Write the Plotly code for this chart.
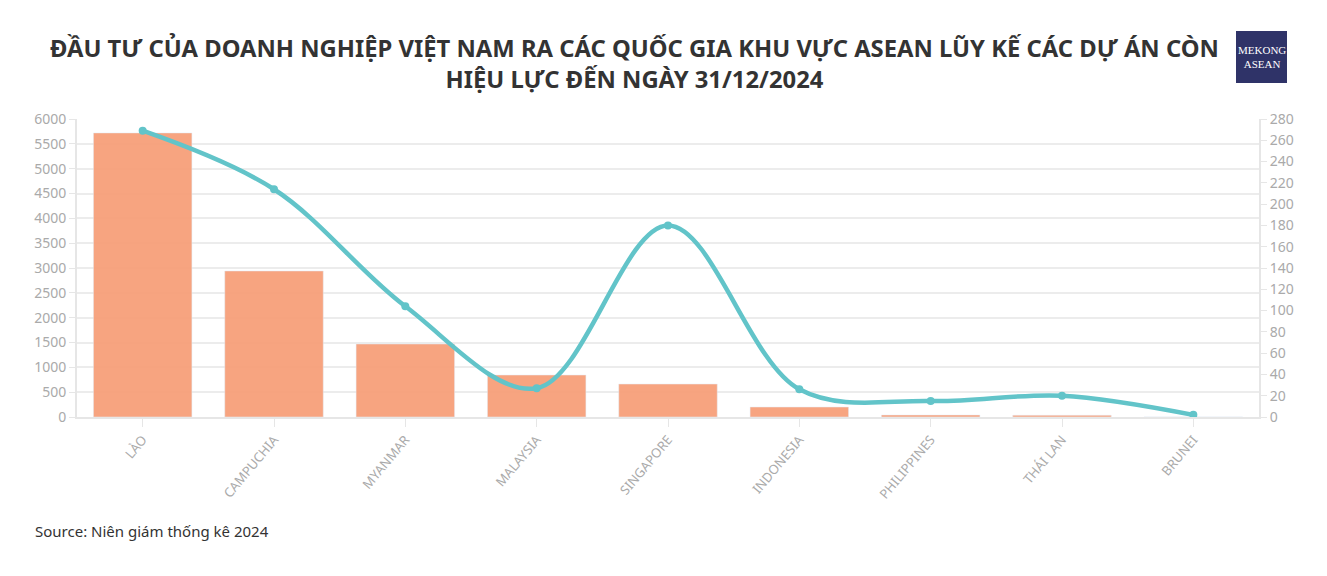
import plotly.graph_objects as go

categories = ["LÀO", "CAMPUCHIA", "MYANMAR", "MALAYSIA", "SINGAPORE", "INDONESIA", "PHILIPPINES", "THÁI LAN", "BRUNEI"]
capital = [5720, 2940, 1470, 845, 664, 201, 40, 35, 2]
projects = [269, 214, 104, 27, 180, 26, 15, 20, 2]
left_ticks = list(range(0, 6001, 500))
right_ticks = list(range(0, 281, 20))

title = "ĐẦU TƯ CỦA DOANH NGHIỆP VIỆT NAM RA CÁC QUỐC GIA KHU VỰC ASEAN LŨY KẾ CÁC DỰ ÁN CÒN<br>HIỆU LỰC ĐẾN NGÀY 31/12/2024"

OFF = 8  # page body margin
W, H = 1327 - 2 * OFF, 576 - 2 * OFF
L = 77 - OFF
T = 119 - OFF
R = W - (1259 - OFF)
B = H - (417 - OFF)
PW, PH = W - L - R, H - T - B

def px(x):
    return (x - OFF - L) / PW

def py(y):
    return (H - B - (y - OFF)) / PH

fig = go.Figure()
fig.add_trace(go.Bar(x=categories, y=capital, marker=dict(color="#f7a07a", opacity=0.95),
                     name="Vốn", yaxis="y"))
fig.add_trace(go.Scatter(x=categories, y=projects, mode="lines+markers", yaxis="y2",
                         line=dict(color="#62c4c9", width=4.5, shape="spline", smoothing=1.0),
                         marker=dict(size=8, color="#62c4c9"), name="Dự án"))

fig.update_layout(
    width=W, height=H,
    margin=dict(l=L, r=R, t=T, b=B, autoexpand=False),
    paper_bgcolor="white", plot_bgcolor="white",
    showlegend=False,
    bargap=0.25,
    font=dict(family="Noto Sans", color="#aaaaaa", size=13),
    xaxis=dict(tickangle=-50, showline=True, linecolor="#e6e6e6", linewidth=2, automargin=False,
               ticks="outside", tickcolor="#e6e6e6", ticklen=8,
               tickfont=dict(size=13, color="#aaaaaa"), showgrid=False),
    yaxis=dict(range=[0, 6000], tickvals=left_ticks, showline=True, linecolor="#e6e6e6", linewidth=2,
               automargin=False,
               gridcolor="#ececec", gridwidth=2, ticks="outside", tickcolor="#e6e6e6", ticklen=6,
               zeroline=False, tickfont=dict(size=14, color="#aaaaaa")),
    yaxis2=dict(range=[0, 280], tickvals=right_ticks, overlaying="y", side="right", showline=True,
                automargin=False,
                linecolor="#e6e6e6", linewidth=2, showgrid=False, ticks="outside", tickcolor="#e6e6e6",
                ticklen=6, zeroline=False, tickfont=dict(size=14, color="#aaaaaa")),
)

# title as annotation (two lines)
fig.add_annotation(xref="paper", yref="paper", x=px(634), y=py(30), xanchor="center", yanchor="top",
                   text="<b>" + title + "</b>", showarrow=False, align="center",
                   font=dict(family="Noto Sans", size=23.8, color="#333333"))

# logo
fig.add_shape(type="rect", xref="paper", yref="paper", x0=px(1236), x1=px(1287),
              y0=py(83), y1=py(31), fillcolor="#2f3368", line=dict(width=0), layer="above")
fig.add_annotation(xref="paper", yref="paper", x=px(1261.5), y=py(57), xanchor="center", yanchor="middle",
                   text="MEKONG<br>ASEAN", showarrow=False,
                   font=dict(family="Liberation Serif", size=11, color="white"))

fig.add_annotation(xref="paper", yref="paper", x=px(33), y=py(531), xanchor="left",
                   yanchor="middle", text="Source: Niên giám thống kê 2024", showarrow=False,
                   font=dict(family="Noto Sans", size=15, color="#333333"))

fig.write_html("out.html")
